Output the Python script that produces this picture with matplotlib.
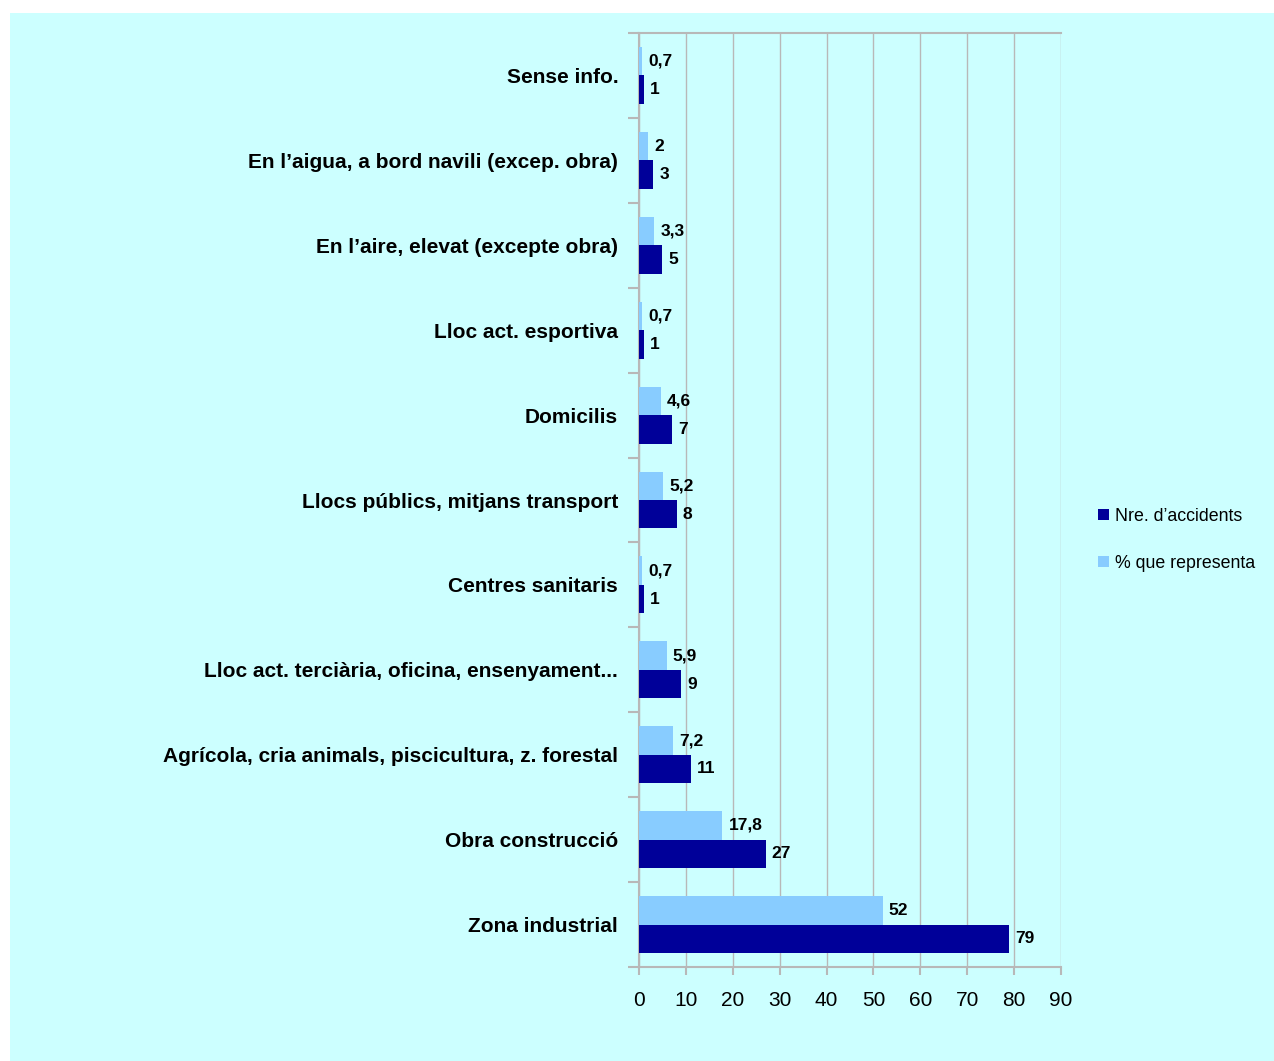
import matplotlib
matplotlib.use("Agg")
import matplotlib.pyplot as plt
import matplotlib.patches as mpatches
import numpy as np

plt.rcParams["font.family"] = ["Liberation Sans", "DejaVu Sans"]

# ── data (top to bottom as shown) ───────────────────────────────────────────
categories = [
    "Sense info.",
    "En l\u2019aigua, a bord navili (excep. obra)",
    "En l\u2019aire, elevat (excepte obra)",
    "Lloc act. esportiva",
    "Domicilis",
    "Llocs públics, mitjans transport",
    "Centres sanitaris",
    "Lloc act. terciària, oficina, ensenyament...",
    "Agrícola, cria animals, piscicultura, z. forestal",
    "Obra construcció",
    "Zona industrial",
]
n_accidents = [1, 3, 5, 1, 7, 8, 1, 9, 11, 27, 79]
pct = [0.7, 2, 3.3, 0.7, 4.6, 5.2, 0.7, 5.9, 7.2, 17.8, 52]
x_ticks = list(range(0, 100, 10))

DARK = "#000099"
LIGHT = "#88CCFF"
BG = "#CCFFFF"
GRID = "#B8B8B8"

fig = plt.figure(figsize=(12.74, 10.61), dpi=100)
fig.patch.set_facecolor("white")
fig.patches.append(mpatches.Rectangle((10 / 1274, 0.0), 1.0, 1 - 13 / 1061,
                                      transform=fig.transFigure,
                                      facecolor=BG, edgecolor="none", zorder=-10))

ax = fig.add_axes([639 / 1274, 1 - 967 / 1061, (1061 - 639) / 1274, (967 - 33) / 1061])
ax.set_facecolor(BG)
ax.set_zorder(1)

n = len(categories)
y = np.arange(n)
h = 0.335
bars_d = ax.barh(y + h / 2, n_accidents, height=h, color=DARK, zorder=3,
                 label="Nre. d\u2019accidents")
bars_l = ax.barh(y - h / 2, pct, height=h, color=LIGHT, zorder=3,
                 label="% que representa")

def fmt(v):
    s = f"{v:g}"
    return s.replace(".", ",")

for b, v in zip(bars_d, n_accidents):
    ax.text(b.get_width() + 1.3, b.get_y() + b.get_height() / 2, fmt(v),
            va="center", ha="left", fontsize=12.5, fontweight="bold", zorder=4)
for b, v in zip(bars_l, pct):
    ax.text(b.get_width() + 1.3, b.get_y() + b.get_height() / 2, fmt(v),
            va="center", ha="left", fontsize=12.5, fontweight="bold", zorder=4)

ax.set_ylim(n - 0.5, -0.5)
ax.set_xlim(0, 90)
ax.set_xticks(x_ticks)
ax.set_yticks(y)
ax.set_yticklabels(categories, fontsize=15, fontweight="bold")
ax.set_yticks(np.arange(n + 1) - 0.5, minor=True)
ax.tick_params(axis="y", which="major", length=0, pad=15)
ax.tick_params(axis="y", which="minor", length=8, color=GRID, width=1.5)
ax.tick_params(axis="x", which="major", length=6, color=GRID, width=1.5,
               labelsize=15, pad=11)

ax.grid(True, axis="x", color=GRID, lw=1.0, zorder=0)
ax.set_axisbelow(True)
for s in ["left", "bottom", "top"]:
    ax.spines[s].set_color(GRID)
    ax.spines[s].set_linewidth(1.5)
ax.spines["right"].set_visible(False)

fig.legend(handles=[bars_d, bars_l], loc="center left",
           bbox_to_anchor=(1082 / 1274, 1 - 540 / 1061), frameon=False,
           fontsize=12.8, labelspacing=1.7, handlelength=0.6, handleheight=0.6,
           handletextpad=0.35)

fig.savefig("out.png", dpi=100, facecolor=fig.get_facecolor())
